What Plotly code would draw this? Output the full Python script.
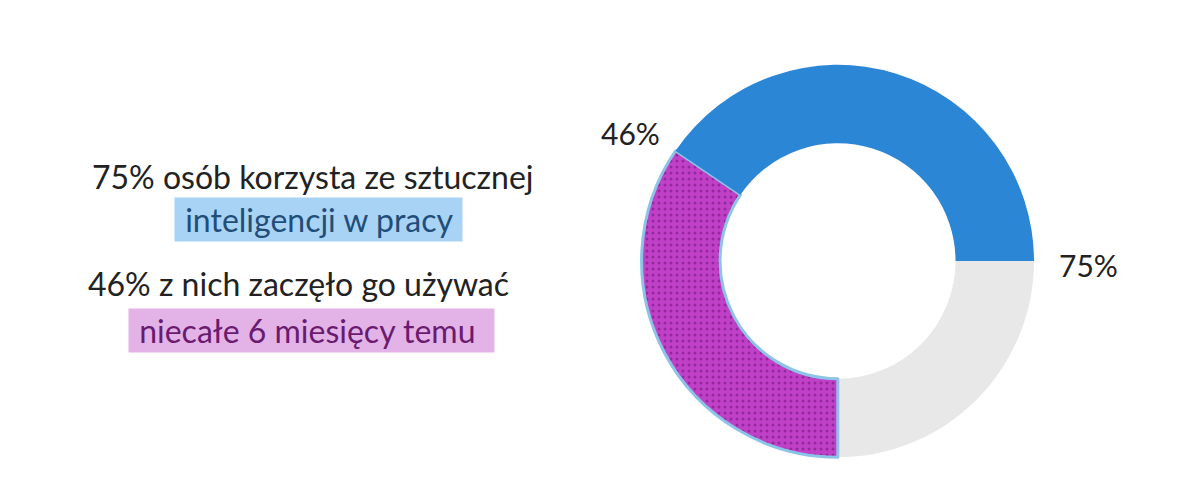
import plotly.graph_objects as go

slices = ["pozostali", "niecałe 6 miesięcy", "dłużej"]
values = [25, 34.5, 40.5]
colors = ["#E8E8E8", "#C040C8", "#2C86D6"]
ring_labels = ["46%", "75%"]

fig = go.Figure(go.Pie(
    labels=slices, values=values, hole=0.6, sort=False,
    direction="clockwise", rotation=90, textinfo="none", hoverinfo="label+value",
    marker=dict(colors=colors,
                line=dict(color=["#E8E8E8", "#8CC4E8", "#2C86D6"], width=[0, 3, 0]),
                pattern=dict(shape=["", ".", ""], fgcolor="#6A1070", fillmode="overlay",
                             size=6, solidity=0.2)),
    domain=dict(x=[0.528, 0.855], y=[0.1, 0.888]),
    showlegend=False,
))

font = "Lato, 'Open Sans', sans-serif"
ann = [
    dict(x=622 / 1200, y=1 - 125 / 500, text=ring_labels[0], size=30, color="#222"),
    dict(x=1080 / 1200, y=1 - 257 / 500, text=ring_labels[1], size=30, color="#222"),
    dict(x=305 / 1200, y=1 - 168 / 500, text="75% osób korzysta ze sztucznej", size=32, color="#222"),
    dict(x=310 / 1200, y=1 - 212 / 500, text=" inteligencji w pracy ", size=32, color="#1F4E79", bg="#A9D3F5"),
    dict(x=290 / 1200, y=1 - 275 / 500, text="46% z nich zaczęło go używać", size=32, color="#222"),
    dict(x=303 / 1200, y=1 - 322 / 500, text=" niecałe 6 miesięcy temu  ", size=32, color="#6A1B6E", bg="#E3B3E8"),
]
for a in ann:
    fig.add_annotation(x=a["x"], y=a["y"], xref="paper", yref="paper", text=a["text"],
                       xanchor="center", yanchor="middle", showarrow=False,
                       font=dict(family=font, size=a["size"], color=a["color"]),
                       bgcolor=a.get("bg", "rgba(0,0,0,0)"), borderpad=2)

fig.update_layout(width=1200, height=500, margin=dict(l=0, r=0, t=0, b=0),
                  paper_bgcolor="white", plot_bgcolor="white")
fig.write_html("out.html")
